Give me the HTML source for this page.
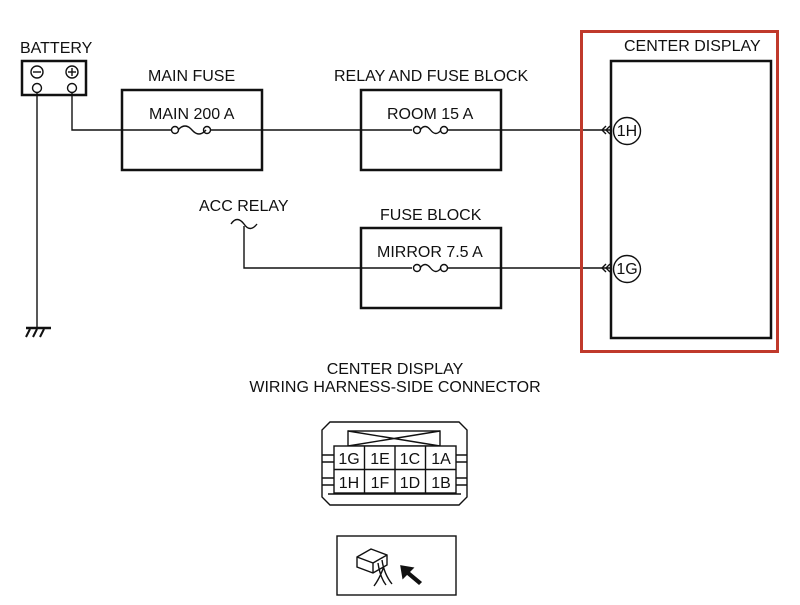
<!DOCTYPE html>
<html><head><style>body{margin:0;background:#fff}svg{display:block}text{font-family:"Liberation Sans",sans-serif;font-size:16px;fill:#111}</style></head>
<body>
<svg width="800" height="605" viewBox="0 0 800 605" xmlns="http://www.w3.org/2000/svg">
<g fill="none" stroke="#111" stroke-width="1.4">
<rect x="22" y="61" width="64" height="34" stroke-width="2.5"/>
<circle cx="37" cy="72" r="6"/><line x1="33" y1="72" x2="41" y2="72"/>
<circle cx="72" cy="72" r="6"/><line x1="68" y1="72" x2="76" y2="72"/><line x1="72" y1="68" x2="72" y2="76"/>
<circle cx="37" cy="88" r="4.5"/><circle cx="72" cy="88" r="4.5"/>
<line x1="37" y1="92" x2="37" y2="328"/>
<line x1="26" y1="328" x2="51" y2="328" stroke-width="2.5"/>
<line x1="30" y1="329" x2="26" y2="337" stroke-width="2"/><line x1="37" y1="329" x2="33" y2="337" stroke-width="2"/><line x1="44" y1="329" x2="40" y2="337" stroke-width="2"/>
<polyline points="72,92 72,130 172,130"/>
<rect x="122" y="90" width="140" height="80" stroke-width="2.5"/>
<circle cx="175" cy="130" r="3.5"/><circle cx="207" cy="130" r="3.5"/>
<path d="M178,130 q7,-8 14,0 t14,0"/>
<line x1="210" y1="130" x2="412" y2="130"/>
<rect x="361" y="90" width="140" height="80" stroke-width="2.5"/>
<circle cx="417" cy="130" r="3.5"/><circle cx="444" cy="130" r="3.5"/>
<path d="M420,130 q5,-7 10.5,0 t10.5,0"/>
<line x1="447" y1="130" x2="612" y2="130"/>
<path d="M606,126 l-4,4 4,4 M610,126 l-4,4 4,4"/>
<path d="M231,224 q6,-9 13,0 q6,9 13,0"/>
<polyline points="244,226 244,268 412,268"/>
<rect x="361" y="228" width="140" height="80" stroke-width="2.5"/>
<circle cx="417" cy="268" r="3.5"/><circle cx="444" cy="268" r="3.5"/>
<path d="M420,268 q5,-7 10.5,0 t10.5,0"/>
<line x1="447" y1="268" x2="612" y2="268"/>
<path d="M606,264 l-4,4 4,4 M610,264 l-4,4 4,4"/>
<rect x="581.5" y="31.5" width="196" height="320" stroke="#c0392b" stroke-width="3"/>
<rect x="611" y="61" width="160" height="277" stroke-width="2.5"/>
<circle cx="627" cy="131" r="13.5" fill="#fff"/>
<circle cx="627" cy="269" r="13.5" fill="#fff"/>
<path d="M330,422 H459 L467,430 V497 L459,505 H330 L322,497 V430 Z"/>
<path d="M328,494 H461"/>
<rect x="348" y="431" width="92" height="15"/>
<path d="M348,431 L440,446 M440,431 L348,446"/>
<rect x="334" y="446" width="122" height="47" fill="#fff"/>
<line x1="334" y1="469.5" x2="456" y2="469.5"/>
<line x1="364.5" y1="446" x2="364.5" y2="493"/><line x1="395" y1="446" x2="395" y2="493"/><line x1="425.5" y1="446" x2="425.5" y2="493"/>
<path d="M322,455 h12 M322,462 h12 M322,478 h12 M322,485 h12 M456,455 h11 M456,462 h11 M456,478 h11 M456,485 h11"/>
<rect x="337" y="536" width="119" height="59"/>
<path d="M357,557 l14,-8 16,6 v10 l-14,8 -16,-6 z M357,557 l16,6 v10 M373,563 l14,-8"/>
<path d="M378,563 q2,14 8,22 M382,560 q2,14 10,24 M384,566 q-4,12 -10,20"/>
<path d="M421,582 l-12,-10 4,-4 -12,-2 2,12 4,-4 12,10 z" fill="#111"/>
</g>
<text x="20" y="53">BATTERY</text>
<text x="148" y="81">MAIN FUSE</text>
<text x="149" y="119">MAIN 200 A</text>
<text x="334" y="81">RELAY AND FUSE BLOCK</text>
<text x="387" y="119">ROOM 15 A</text>
<text x="199" y="211">ACC RELAY</text>
<text x="380" y="220">FUSE BLOCK</text>
<text x="377" y="257">MIRROR 7.5 A</text>
<text x="624" y="51">CENTER DISPLAY</text>
<text x="627" y="136" text-anchor="middle" font-size="14">1H</text>
<text x="627" y="274" text-anchor="middle" font-size="14">1G</text>
<text x="395" y="374" text-anchor="middle">CENTER DISPLAY</text>
<text x="395" y="392" text-anchor="middle">WIRING HARNESS-SIDE CONNECTOR</text>
<g text-anchor="middle">
<text x="349" y="464">1G</text><text x="380" y="464">1E</text><text x="410" y="464">1C</text><text x="441" y="464">1A</text>
<text x="349" y="488">1H</text><text x="380" y="488">1F</text><text x="410" y="488">1D</text><text x="441" y="488">1B</text>
</g>
</svg>
</body></html>
